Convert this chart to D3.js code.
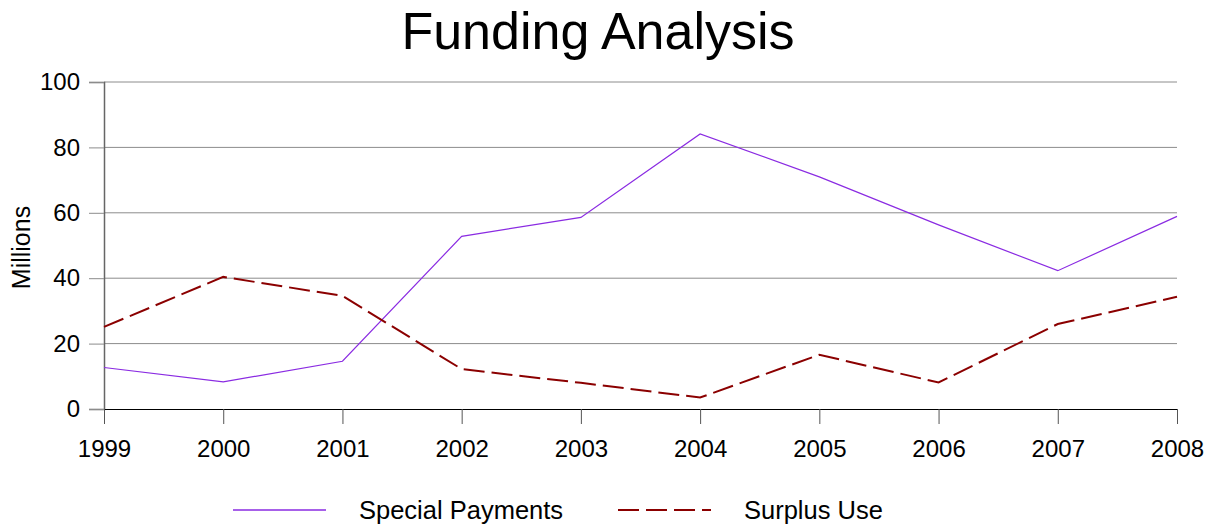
<!DOCTYPE html>
<html>
<head>
<meta charset="utf-8">
<script src="https://cdn.jsdelivr.net/npm/d3@7"></script>
<style>
    body { margin: 0; background: #fff; }
    text { font-family: "Liberation Sans", Arial, sans-serif; fill: #000; }
</style>
</head>
<body>
<div id="chart"></div>
<script>
// Chart data
const years = [1999, 2000, 2001, 2002, 2003, 2004, 2005, 2006, 2007, 2008];
const specialPayments = [12.7, 8.3, 14.6, 52.8, 58.6, 84.1, 71.0, 56.3, 42.3, 58.9];
const surplusUse = [25.1, 40.4, 34.6, 12.2, 8.0, 3.5, 16.6, 8.1, 26.0, 34.3];
const yTicks = [0, 20, 40, 60, 80, 100];
const seriesNames = ["Special Payments", "Surplus Use"];

(function () {
    const W = 1212, H = 526;
    const margin = { top: 82, right: 35, bottom: 117, left: 104 },
        width = W - margin.left - margin.right,
        height = H - margin.top - margin.bottom;

    const svg = d3.select("#chart")
        .append("svg")
        .attr("width", W)
        .attr("height", H);

    // Title
    svg.append("text")
        .attr("x", 598)
        .attr("y", 49)
        .attr("text-anchor", "middle")
        .style("font-size", "52px")
        .text("Funding Analysis");

    const g = svg.append("g")
        .attr("transform", `translate(${margin.left},${margin.top})`);

    const x = d3.scaleLinear()
        .domain(d3.extent(years))
        .range([0, width]);

    const y = d3.scaleLinear()
        .domain([0, 100])
        .range([height, 0]);

    // Horizontal grid lines
    g.append("g")
        .selectAll("line")
        .data(yTicks.filter((d) => d > 0))
        .join("line")
        .attr("x1", 0)
        .attr("x2", width)
        .attr("y1", (d) => y(d))
        .attr("y2", (d) => y(d))
        .attr("stroke", "#8c8c8c")
        .attr("stroke-width", 1);

    // Y axis
    const yAxis = g.append("g")
        .call(d3.axisLeft(y).tickValues(yTicks).tickSize(15).tickPadding(9));
    yAxis.select(".domain").attr("stroke", "#666").attr("stroke-width", 1.5);
    yAxis.selectAll(".tick line").attr("stroke", "#8c8c8c");
    yAxis.selectAll(".tick text")
        .style("font-size", "24px")
        .style("font-family", "Liberation Sans, Arial, sans-serif")
        .attr("fill", "#000");

    // X axis
    const xAxis = g.append("g")
        .attr("transform", `translate(0,${height})`)
        .call(d3.axisBottom(x).tickValues(years).tickFormat(d3.format("d"))
            .tickSize(15).tickSizeOuter(0).tickPadding(16));
    xAxis.select(".domain").attr("stroke", "#000").attr("stroke-width", 1.2);
    xAxis.selectAll(".tick line").attr("stroke", "#555");
    xAxis.selectAll(".tick text")
        .style("font-size", "24px")
        .style("font-family", "Liberation Sans, Arial, sans-serif")
        .attr("fill", "#000");

    // Y axis label
    svg.append("text")
        .attr("transform", `translate(30,${margin.top + height / 2 + 2}) rotate(-90)`)
        .attr("text-anchor", "middle")
        .style("font-size", "25px")
        .text("Millions");

    const line = d3.line()
        .x((d, i) => x(years[i]))
        .y((d) => y(d));

    // Special Payments line
    g.append("path")
        .datum(specialPayments)
        .attr("fill", "none")
        .attr("stroke", "#8a2be2")
        .attr("stroke-width", 1.2)
        .attr("d", line);

    // Surplus Use line
    g.append("path")
        .datum(surplusUse)
        .attr("fill", "none")
        .attr("stroke", "#8b0000")
        .attr("stroke-width", 2)
        .attr("stroke-dasharray", "21,7")
        .attr("d", line);

    // Legend
    const legend = svg.append("g").attr("transform", "translate(0,510)");
    const items = [
        { name: seriesNames[0], color: "#8a2be2", w: 1.5, dash: null, x: 233 },
        { name: seriesNames[1], color: "#8b0000", w: 2, dash: "21,7", x: 618 },
    ];
    items.forEach((it) => {
        legend.append("line")
            .attr("x1", it.x)
            .attr("x2", it.x + 93)
            .attr("y1", 0)
            .attr("y2", 0)
            .attr("stroke", it.color)
            .attr("stroke-width", it.w)
            .attr("stroke-dasharray", it.dash);
        legend.append("text")
            .attr("x", it.x + 126)
            .attr("y", 9)
            .style("font-size", "25.5px")
            .text(it.name);
    });
})();
</script>
</body>
</html>
